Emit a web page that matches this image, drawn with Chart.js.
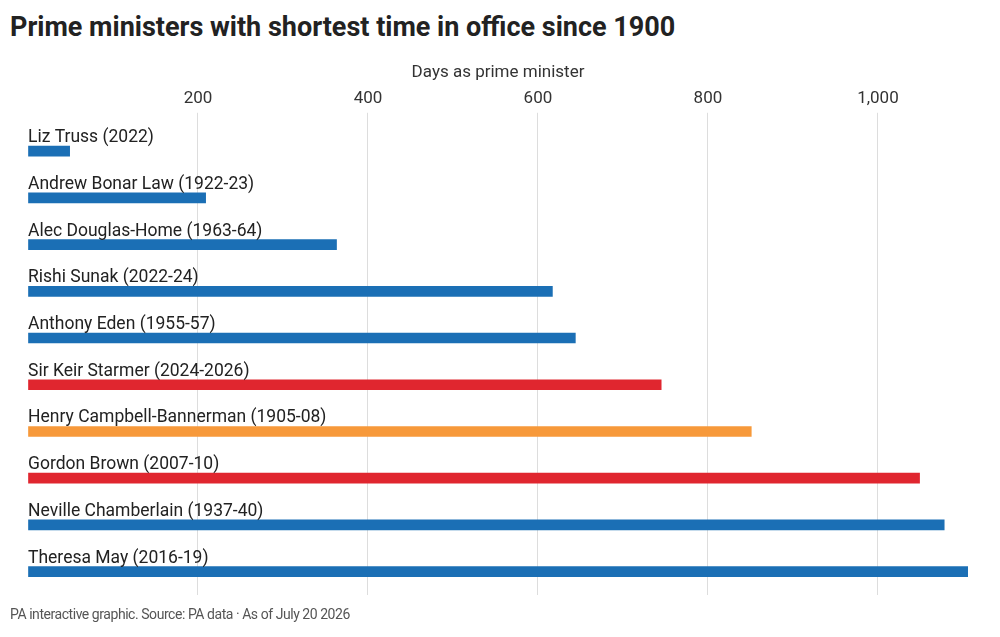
<!DOCTYPE html>
<html>
<head>
<meta charset="utf-8">
<script src="https://cdn.jsdelivr.net/npm/chart.js@4.4.1/dist/chart.umd.min.js"></script>
<style>
  body { margin: 0; background: #fff; font-family: Roboto, sans-serif; }
  #wrap { position: relative; width: 1000px; height: 637px; overflow: hidden; }
  h1 { position: absolute; left: 10px; top: 11px; margin: 0; font-size: 27px; font-weight: 700; letter-spacing: 0; color: #222; white-space: nowrap; }
  .source { position: absolute; left: 10px; top: 606px; font-size: 14px; color: #555; letter-spacing: -0.45px; white-space: nowrap; }
  canvas { position: absolute; left: 0; top: 0; }
</style>
</head>
<body>
<div id="wrap">
  <h1>Prime ministers with shortest time in office since 1900</h1>
  <canvas id="chart" width="1000" height="637"></canvas>
  <div class="source">PA interactive graphic. Source: PA data · As of July 20 2026</div>
</div>
<script>
// Prime ministers, shortest first
const names = [
  'Liz Truss (2022)',
  'Andrew Bonar Law (1922-23)',
  'Alec Douglas-Home (1963-64)',
  'Rishi Sunak (2022-24)',
  'Anthony Eden (1955-57)',
  'Sir Keir Starmer (2024-2026)',
  'Henry Campbell-Bannerman (1905-08)',
  'Gordon Brown (2007-10)',
  'Neville Chamberlain (1937-40)',
  'Theresa May (2016-19)'
];
const days = [49, 209, 363, 617, 644, 745, 851, 1049, 1078, 1106];
const parties = ['Con', 'Con', 'Con', 'Con', 'Con', 'Lab', 'Lib', 'Lab', 'Con', 'Con'];
const tickValues = [200, 400, 600, 800, 1000];

const partyColours = { Con: '#1b6fb5', Lab: '#e0262f', Lib: '#f7993a' };

// names sit above each bar, left aligned with the bar start
const rowLabels = {
  id: 'rowLabels',
  afterDatasetsDraw(chart) {
    const c = chart.ctx;
    const meta = chart.getDatasetMeta(0);
    c.save();
    c.font = '17.5px Roboto';
    c.fillStyle = '#222';
    c.textBaseline = 'alphabetic';
    meta.data.forEach((bar, i) => {
      c.fillText(names[i], chart.chartArea.left, bar.y - 9);
    });
    c.restore();
  }
};

const ctx = document.getElementById('chart').getContext('2d');
new Chart(ctx, {
  type: 'bar',
  data: {
    labels: names,
    datasets: [{
      data: days,
      backgroundColor: parties.map(p => partyColours[p]),
      barThickness: 10
    }]
  },
  options: {
    indexAxis: 'y',
    responsive: false,
    animation: false,
    layout: { padding: { left: 28, right: 32, top: 63, bottom: 42 } },
    plugins: {
      legend: { display: false },
      tooltip: { enabled: false }
    },
    scales: {
      x: {
        position: 'top',
        min: 0,
        max: 1106,
        border: { display: false },
        afterBuildTicks: scale => {
          scale.ticks = [0, ...tickValues].map(v => ({ value: v }));
        },
        ticks: {
          padding: 4,
          color: '#333',
          font: { family: 'Roboto', size: 17 },
          callback: v => v === 0 ? '' : v.toLocaleString('en-GB')
        },
        grid: {
          color: c => (c.tick && c.tick.value === 0) ? 'rgba(0,0,0,0)' : '#dddddd',
          tickLength: 15
        },
        title: {
          display: true,
          text: 'Days as prime minister',
          color: '#333',
          font: { family: 'Roboto', size: 17 },
          padding: { top: 0, bottom: 1 }
        }
      },
      y: { display: false }
    }
  },
  plugins: [rowLabels]
});
</script>
</body>
</html>
